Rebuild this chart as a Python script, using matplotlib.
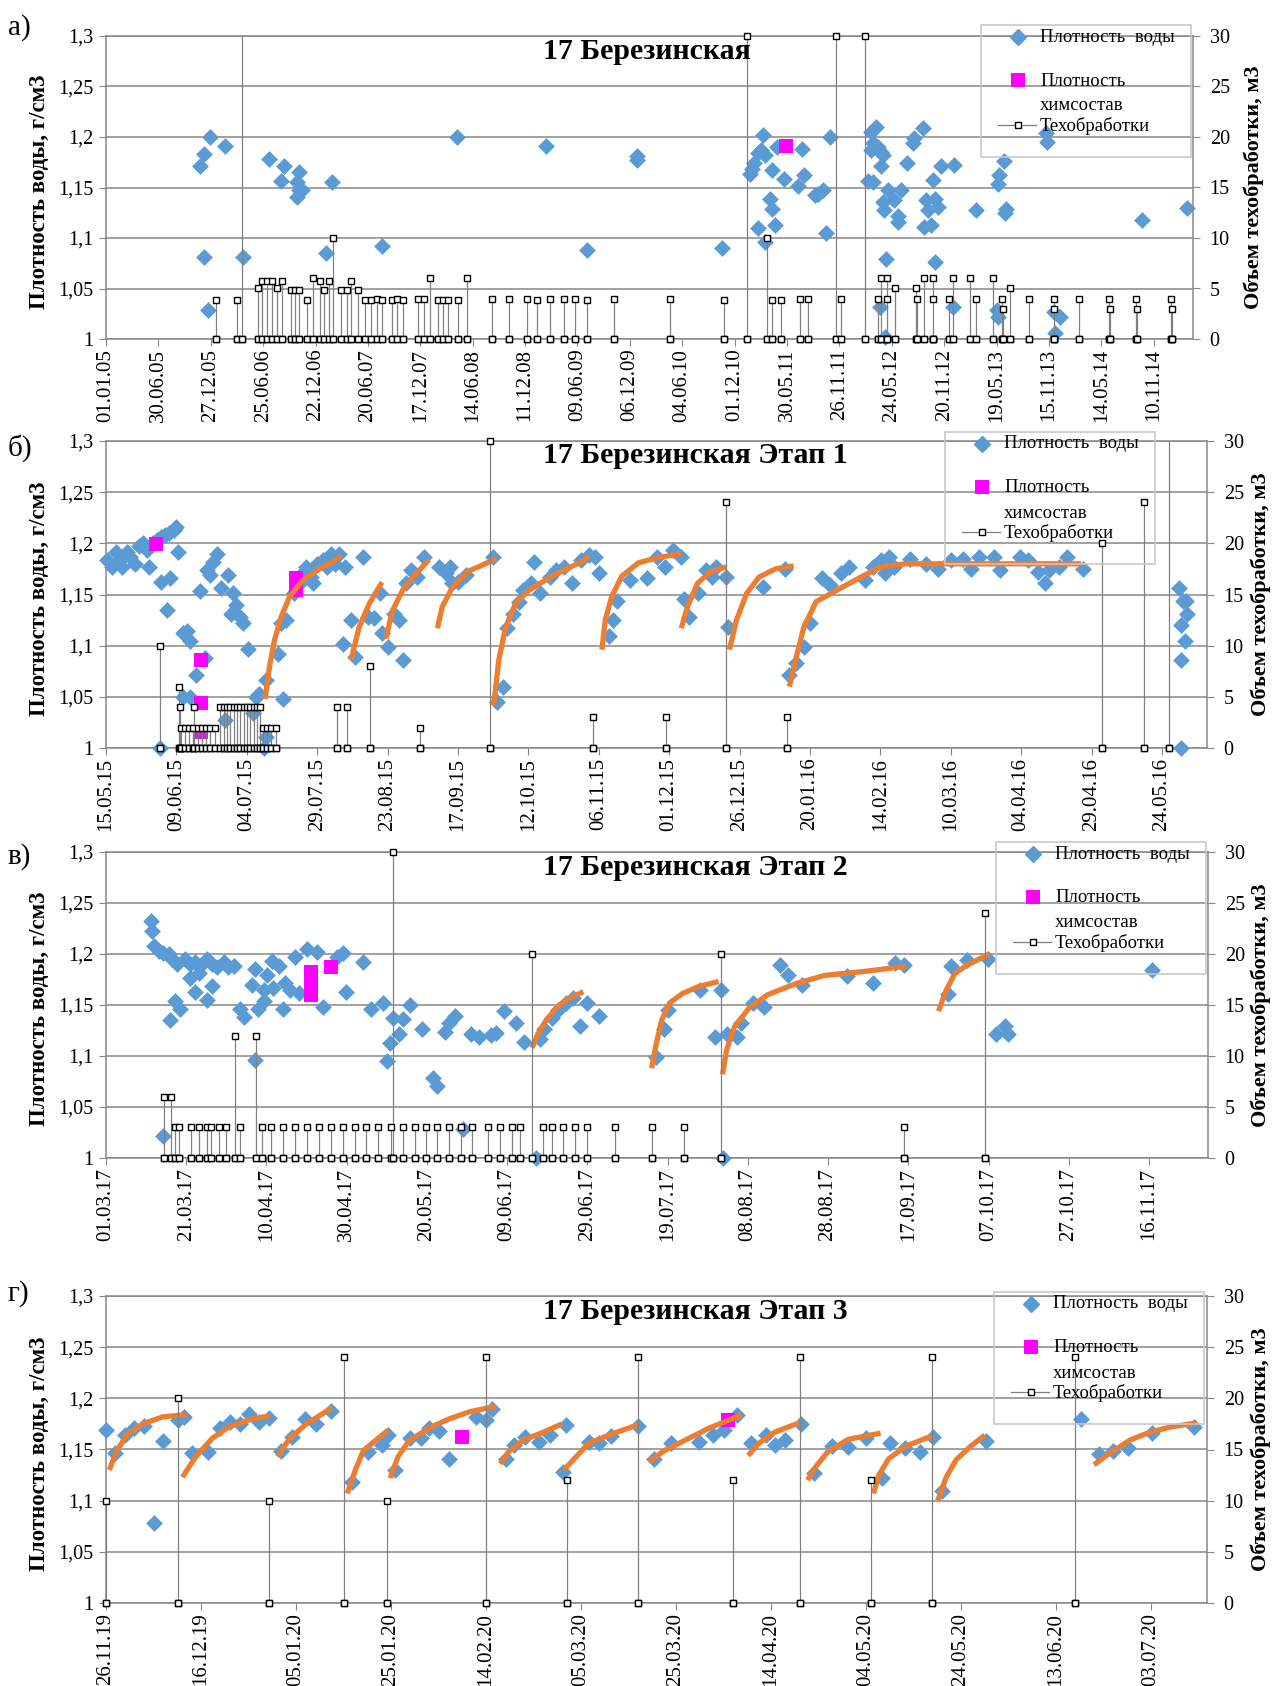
import numpy as np
import matplotlib
matplotlib.use("Agg")
import matplotlib.pyplot as plt
import matplotlib.dates as mdates
from matplotlib.lines import Line2D
from matplotlib.patches import Rectangle
from matplotlib.ticker import FuncFormatter
from datetime import datetime

plt.rcParams['font.family'] = 'serif'
plt.rcParams['font.serif'] = ['Liberation Serif', 'DejaVu Serif']

W, H = 1277, 1686
BLUE = '#5b9bd5'
PINK = '#ff00ff'
ORANGE = '#ed7d31'
GRAY = '#878787'

# ---------------- а) whole history, days since 01.01.05 ----------------
a_water_days = [324, 338, 338, 352, 359, 408, 472, 560, 603, 612, 655, 655, 662, 662, 673,
                757, 777, 950, 1207, 1511, 1654, 1823, 1823, 2115, 2213, 2218, 2226,
                2241, 2241, 2252, 2258, 2264, 2266, 2281, 2287, 2289, 2298, 2304, 2330,
                2378, 2390, 2399, 2435, 2447, 2464, 2475, 2487, 2618, 2630, 2630, 2635,
                2635, 2647, 2652, 2658, 2664, 2664, 2670, 2670, 2673, 2678, 2681, 2687,
                2709, 2721, 2721, 2732, 2753, 2772, 2778, 2807, 2812, 2818, 2824, 2835,
                2841, 2847, 2849, 2858, 2870, 2910, 2915, 2989, 3062, 3064, 3066, 3069,
                3086, 3089, 3092, 3230, 3232, 3258, 3260, 3279, 3561, 3716]
a_water_rho = [1.171, 1.183, 1.081, 1.029, 1.200, 1.191, 1.081, 1.178, 1.156, 1.171, 1.155, 1.141, 1.165, 1.148, 1.148,
               1.085, 1.155, 1.092, 1.200, 1.191, 1.088, 1.181, 1.177, 1.090, 1.163, 1.168, 1.174,
               1.184, 1.110, 1.187, 1.202, 1.182, 1.096, 1.139, 1.167, 1.129, 1.113, 1.190, 1.158,
               1.151, 1.188, 1.162, 1.143, 1.144, 1.148, 1.105, 1.200, 1.156, 1.205, 1.187, 1.194,
               1.155, 1.210, 1.190, 1.032, 1.185, 1.171, 1.182, 1.136, 1.128, 1.002, 1.079, 1.148,
               1.138, 1.122, 1.116, 1.148, 1.174, 1.194, 1.199, 1.209, 1.111, 1.138, 1.128, 1.113,
               1.157, 1.139, 1.076, 1.131, 1.171, 1.032, 1.172, 1.128, 1.029, 1.153, 1.022, 1.162,
               1.176, 1.125, 1.129, 1.204, 1.195, 1.027, 1.006, 1.022, 1.118, 1.130]
a_chem_days = [2338]
a_chem_rho = [1.191]
a_treat_days = [377, 451, 467, 521, 535, 552, 570, 587, 605, 634, 648, 662, 690, 711, 735, 750, 767,
                781, 807, 828, 842, 866, 890, 912, 932, 950, 981, 1000, 1021, 1073, 1091, 1115,
                1140, 1157, 1176, 1211, 1239, 1326, 1384, 1446, 1481, 1525, 1574, 1612, 1654, 1746,
                1938, 2122, 2203, 2272, 2290, 2318, 2384, 2412, 2508, 2527, 2609, 2652, 2663, 2683,
                2685, 2712, 2783, 2785, 2812, 2840, 2842, 2895, 2909, 2969, 2989, 3049, 3080, 3082,
                3105, 3172, 3256, 3258, 3345, 3447, 3449, 3540, 3542, 3660, 3662]
a_treat_vol = [3.9, 3.9, 40, 5, 5.7, 5.7, 5.7, 5, 5.7, 4.9, 4.9, 4.9, 3.9, 6, 5.7, 4.9, 5.7,
               10, 4.9, 4.9, 5.7, 4.9, 3.9, 3.9, 4, 3.9, 3.9, 4, 3.9, 4, 4, 6,
               3.9, 3.9, 3.9, 3.9, 6, 4, 4, 4, 3.9, 4, 4, 4, 3.9, 4,
               4, 3.9, 30, 10, 3.9, 3.9, 4, 4, 30, 4, 30, 4, 6, 6,
               4, 5, 5, 4, 6, 6, 4, 4, 6, 6, 4, 6, 4, 3,
               5, 4, 4, 3, 4, 4, 3, 4, 3, 4, 3]
a_trends = []

# ---------------- б) stage 1, days since 15.05.15 ----------------
b_water_days = [0.3, 2.2, 3.6, 5.1, 5.8, 7.3, 8.7, 10.2, 11.6, 13.1, 14.5, 15.3, 16.7, 18.2, 19.6,
                21.1, 22.5, 24.0, 25.0, 19.5, 22.7, 21.5, 25.7, 19.2, 27.4, 28.6, 29.7, 27.3, 29.7,
                32.1, 33.3, 35.1, 35.7, 36.8, 38.0, 39.5, 41.0, 42.1, 43.3, 44.5, 45.1, 46.3, 47.5,
                48.6, 50.4, 52.2, 53.4, 54.5, 56.0, 56.9, 56.9, 62.8, 61.0, 62.2, 64.0, 66.8, 68.7,
                69.0, 71.1, 71.2, 72.7, 73.4, 74.8, 77.0, 78.5, 79.9, 81.4, 82.8, 85.0, 84.3, 86.9,
                88.6, 91.1, 93.0, 95.2, 97.4, 98.1, 100.3, 102.4, 103.9, 105.3, 106.5, 108.2, 110.4,
                113.0, 118.4, 120.6, 122.0, 122.8, 125.0, 127.9, 137.3, 138.8, 141.0, 142.4, 144.6,
                146.8, 148.2, 151.1, 151.9, 154.0, 157.7, 159.8, 162.7, 165.6, 168.6, 171.5, 173.6,
                175.1, 178.7, 180.2, 181.6, 186.0, 192.0, 195.7, 198.6, 201.4, 204.3, 205.1, 207.2,
                210.1, 213.0, 215.2, 216.7, 220.3, 221.0, 233.3, 241.3, 242.7, 245.0, 247.8, 250.0,
                254.3, 257.2, 260.9, 263.8, 269.6, 272.5, 275.3, 276.8, 278.2, 279.7, 285.5, 291.3,
                295.6, 300.0, 304.3, 307.2, 310.1, 315.2, 317.4, 324.6, 327.5, 331.1, 333.3, 334.8,
                338.4, 341.3, 347.1, 381.1, 382.6, 384.0, 381.9, 383.3, 381.9, 381.9, 383.7]
b_water_rho = [1.184, 1.177, 1.192, 1.184, 1.177, 1.192, 1.187, 1.180, 1.197, 1.200, 1.193, 1.177, 1.200, 1.203, 1.206,
               1.208, 1.210, 1.213, 1.216, 1.162, 1.166, 1.135, 1.192, 1.000, 1.112, 1.114, 1.105, 1.050, 1.050,
               1.071, 1.153, 1.088, 1.174, 1.169, 1.182, 1.190, 1.156, 1.027, 1.169, 1.131, 1.151, 1.140, 1.128,
               1.122, 1.097, 1.034, 1.050, 1.053, 1.000, 1.066, 1.011, 1.048, 1.092, 1.122, 1.125, 1.151, 1.167,
               1.161, 1.177, 1.174, 1.167, 1.161, 1.180, 1.184, 1.177, 1.190, 1.180, 1.190, 1.177, 1.102, 1.125,
               1.089, 1.187, 1.128, 1.127, 1.151, 1.112, 1.099, 1.131, 1.125, 1.086, 1.161, 1.174, 1.167,
               1.187, 1.177, 1.171, 1.177, 1.161, 1.162, 1.169, 1.187, 1.045, 1.060, 1.117, 1.131,
               1.143, 1.154, 1.161, 1.182, 1.151, 1.167, 1.174, 1.177, 1.161, 1.184, 1.189, 1.187,
               1.171, 1.109, 1.125, 1.144, 1.164, 1.166, 1.187, 1.177, 1.193, 1.187, 1.146, 1.128,
               1.151, 1.174, 1.167, 1.177, 1.167, 1.118, 1.157, 1.175, 1.071, 1.083, 1.099, 1.122,
               1.166, 1.159, 1.171, 1.177, 1.164, 1.177, 1.184, 1.171, 1.187, 1.177, 1.185, 1.180,
               1.175, 1.184, 1.185, 1.175, 1.187, 1.187, 1.174, 1.187, 1.184, 1.172, 1.161, 1.174,
               1.177, 1.187, 1.175, 1.156, 1.144, 1.131, 1.120, 1.105, 1.086, 1.000, 1.144]
b_chem_days = [17.9, 33.9, 33.9, 33.9, 67.5, 67.5]
b_chem_rho = [1.199, 1.086, 1.044, 1.016, 1.166, 1.154]
b_treat_days = [19.2, 26.0, 26.2, 26.5, 28.0, 29.5, 31.0, 31.3, 32.6, 34.1, 35.6, 37.1, 38.7,
                40.6, 41.8, 42.9, 44.1, 45.3, 46.5, 47.7, 48.9, 50.1, 51.3, 52.5, 53.7, 54.8,
                55.9, 57.3, 58.7, 60.2, 81.9, 85.5, 93.7, 111.4, 136.3, 172.9, 198.9, 220.3,
                242.0, 353.6, 368.8, 377.5]
b_treat_vol = [10, 6, 4, 2, 2, 2, 2, 4, 2, 2, 2, 2, 2,
               4, 4, 4, 4, 4, 4, 4, 4, 4, 4, 4, 4, 4,
               2, 2, 2, 2, 4, 4, 8, 2, 30, 3, 3, 24,
               3, 20, 24, 40]
b_trends = [
    ([56.5, 58.1, 59.8, 62.2, 65.2, 69.9, 75.8, 81.7, 83.5],
     [1.048, 1.080, 1.105, 1.128, 1.148, 1.164, 1.175, 1.184, 1.188]),
    ([87.0, 89.9, 93.5, 98.0], [1.086, 1.118, 1.141, 1.162]),
    ([99.4, 101.7, 105.3, 110.0, 114.7], [1.107, 1.134, 1.154, 1.170, 1.184]),
    ([117.7, 119.4, 123.0, 128.9, 137.1, 138.8], [1.117, 1.138, 1.157, 1.173, 1.183, 1.185]),
    ([137.7, 139.5, 141.9, 145.4, 150.1, 159.6, 169.0, 171.5],
     [1.042, 1.086, 1.118, 1.141, 1.154, 1.170, 1.182, 1.188]),
    ([176.1, 177.3, 179.6, 183.2, 189.1, 196.0, 204.3],
     [1.096, 1.125, 1.148, 1.168, 1.181, 1.186, 1.190]),
    ([204.3, 206.5, 210.1, 214.5, 220.3], [1.117, 1.138, 1.161, 1.172, 1.177]),
    ([221.4, 223.9, 227.5, 231.9, 237.7, 244.2], [1.096, 1.125, 1.151, 1.167, 1.175, 1.178]),
    ([242.7, 244.9, 247.8, 252.2, 259.4, 268.1, 275.3, 284.0, 346.3],
     [1.060, 1.086, 1.118, 1.143, 1.154, 1.167, 1.177, 1.180, 1.180]),
]

# ---------------- в) stage 2, days since 01.03.17 ----------------
c_water_days = [11.1, 11.5, 11.9, 13.1, 14.3, 14.3, 15.6, 16.0, 16.4, 17.3, 17.7, 18.5, 19.8, 21.0, 21.0,
                22.2, 22.2, 23.1, 23.5, 25.2, 25.2, 26.4, 26.4, 27.6, 29.3, 30.5, 31.8, 33.3, 34.3,
                36.4, 37.2, 37.2, 38.0, 39.3, 39.3, 40.1, 41.3, 41.7, 43.0, 44.1, 44.7, 45.9, 47.1,
                48.0, 50.1, 52.6, 54.0, 57.5, 59.2, 59.9, 64.0, 66.0, 69.0, 70.0, 70.8, 71.6, 73.1,
                74.1, 75.8, 78.7, 81.4, 82.4, 84.4, 85.5, 86.9, 89.0, 91.0, 93.0, 96.0, 97.1, 99.1,
                102.1, 104.1, 107.2, 108.2, 109.2, 111.2, 112.7, 114.7, 116.3, 118.1, 119.8, 122.8,
                137.0, 139.0, 140.0, 148.1, 151.7, 153.2, 153.7, 154.7, 157.3, 158.3, 161.3, 163.9,
                167.9, 170.0, 173.5, 184.7, 191.1, 196.8, 198.9, 210.0, 210.7, 214.6, 219.9, 221.9,
                224.2, 224.8, 260.8]
c_water_rho = [1.232, 1.223, 1.208, 1.203, 1.201, 1.022, 1.200, 1.135, 1.195, 1.154, 1.190, 1.146, 1.195, 1.190, 1.176,
               1.192, 1.163, 1.181, 1.188, 1.195, 1.155, 1.190, 1.169, 1.187, 1.192, 1.187, 1.188, 1.146, 1.138,
               1.170, 1.185, 1.096, 1.146, 1.154, 1.165, 1.179, 1.193, 1.167, 1.188, 1.146, 1.172, 1.165, 1.197,
               1.162, 1.205, 1.202, 1.148, 1.197, 1.201, 1.163, 1.192, 1.146, 1.152, 1.095, 1.113, 1.137, 1.122,
               1.136, 1.150, 1.126, 1.078, 1.071, 1.124, 1.132, 1.139, 1.028, 1.122, 1.119, 1.121, 1.123, 1.144,
               1.132, 1.114, 1.000, 1.117, 1.126, 1.137, 1.145, 1.152, 1.157, 1.129, 1.152, 1.139,
               1.099, 1.126, 1.145, 1.165, 1.119, 1.165, 1.000, 1.122, 1.119, 1.132, 1.152, 1.148,
               1.189, 1.179, 1.170, 1.178, 1.172, 1.191, 1.189, 1.161, 1.188, 1.194, 1.195, 1.122,
               1.129, 1.122, 1.184]
c_chem_days = [51.1, 51.1, 51.1, 56.1]
c_chem_rho = [1.182, 1.171, 1.160, 1.187]
c_treat_days = [14.4, 16.2, 17.3, 18.3, 21.2, 23.1, 25.2, 26.2, 28.1, 30.0, 32.2, 33.3, 37.3, 39.0,
                41.2, 44.2, 47.2, 50.1, 53.0, 56.2, 59.1, 62.0, 64.9, 67.8, 71.1, 71.6, 74.0, 77.0,
                79.8, 82.5, 85.5, 88.5, 91.3, 95.3, 98.3, 101.1, 103.3, 106.2, 109.0, 111.2, 114.0,
                117.0, 119.8, 126.9, 136.0, 144.1, 153.2, 198.9, 219.0]
c_treat_vol = [6, 6, 3, 3, 3, 3, 3, 3, 3, 3, 12, 3, 12, 3,
               3, 3, 3, 3, 3, 3, 3, 3, 3, 3, 3, 30, 3, 3,
               3, 3, 3, 3, 3, 3, 3, 3, 3, 20, 3, 3, 3,
               3, 3, 3, 3, 3, 20, 3, 24]
c_trends = [
    ([106.2, 107.7, 109.7, 112.2, 114.7, 119.0], [1.108, 1.122, 1.135, 1.147, 1.155, 1.163]),
    ([136.0, 137.0, 138.5, 140.5, 143.6, 147.6, 152.7], [1.088, 1.109, 1.135, 1.152, 1.161, 1.168, 1.173]),
    ([153.7, 154.7, 156.7, 160.3, 164.9, 172.0, 179.1, 189.2, 199.4],
     [1.082, 1.106, 1.129, 1.147, 1.160, 1.171, 1.179, 1.183, 1.188]),
    ([207.5, 209.5, 211.6, 214.6, 220.2], [1.144, 1.165, 1.181, 1.189, 1.200]),
]

# ---------------- г) stage 3, days since 26.11.19 ----------------
d_water_days = [0.0, 2.0, 3.9, 6.0, 7.9, 10.2, 12.0, 15.1, 16.4, 18.1, 21.5, 23.9, 26.1, 28.2, 30.1,
                32.3, 34.4, 36.8, 39.2, 42.0, 44.3, 47.3, 51.8, 55.1, 58.1, 59.4, 60.9, 64.1, 66.3,
                68.0, 70.1, 72.3, 77.9, 80.0, 81.2, 84.2, 85.9, 88.2, 91.1, 93.4, 96.8, 96.2, 101.6,
                103.7, 106.3, 111.9, 115.4, 118.9, 124.9, 127.9, 130.1, 132.9, 135.8, 138.9, 140.8,
                143.0, 146.4, 149.0, 152.8, 156.2, 160.1, 163.3, 165.0, 168.3, 171.3, 174.1, 176.0,
                185.3, 205.2, 209.1, 212.1, 215.1, 220.2, 229.1]
d_water_rho = [1.169, 1.147, 1.164, 1.171, 1.173, 1.078, 1.158, 1.179, 1.182, 1.147, 1.148, 1.171, 1.177, 1.175, 1.185,
               1.177, 1.181, 1.149, 1.162, 1.180, 1.175, 1.188, 1.118, 1.148, 1.154, 1.164, 1.130, 1.161, 1.161,
               1.171, 1.168, 1.141, 1.182, 1.179, 1.190, 1.141, 1.154, 1.162, 1.157, 1.164, 1.174, 1.128, 1.157,
               1.156, 1.163, 1.173, 1.141, 1.156, 1.157, 1.164, 1.169, 1.184, 1.156, 1.164, 1.154,
               1.159, 1.175, 1.127, 1.153, 1.152, 1.161, 1.122, 1.156, 1.151, 1.148, 1.162, 1.109,
               1.158, 1.180, 1.146, 1.149, 1.151, 1.166, 1.172]
d_chem_days = [74.9, 130.9]
d_chem_rho = [1.162, 1.179]
d_treat_days = [0.0, 15.1, 34.3, 50.1, 59.2, 80.0, 97.1, 111.9, 132.0, 146.2, 161.0, 173.9, 204.1]
d_treat_vol = [10, 20, 10, 24, 10, 24, 12, 24, 12, 24, 12, 24, 24]
d_trends = [
    ([0.7, 2.2, 4.3, 7.7, 12.0, 17.0], [1.130, 1.148, 1.164, 1.175, 1.182, 1.184]),
    ([16.1, 18.9, 22.4, 25.8, 30.1, 34.4], [1.123, 1.143, 1.161, 1.172, 1.179, 1.183]),
    ([36.1, 38.7, 42.2, 45.6, 47.5], [1.143, 1.161, 1.175, 1.185, 1.191]),
    ([50.8, 52.5, 54.2, 56.8, 59.4], [1.107, 1.130, 1.149, 1.159, 1.169]),
    ([59.8, 61.5, 63.7, 68.0, 72.3, 76.6, 82.0], [1.122, 1.143, 1.158, 1.171, 1.180, 1.187, 1.192]),
    ([83.0, 84.8, 87.8, 92.1, 96.0], [1.136, 1.148, 1.159, 1.167, 1.175]),
    ([96.4, 99.0, 101.6, 105.8, 111.9], [1.130, 1.143, 1.156, 1.164, 1.174]),
    ([114.3, 117.6, 121.9, 127.0, 131.3, 133.9], [1.138, 1.149, 1.159, 1.171, 1.179, 1.184]),
    ([135.2, 137.4, 140.8, 145.9], [1.144, 1.156, 1.167, 1.176]),
    ([147.7, 149.4, 152.0, 156.3, 163.1], [1.120, 1.133, 1.148, 1.160, 1.166]),
    ([161.6, 162.7, 164.8, 168.3, 172.6, 174.3], [1.107, 1.125, 1.141, 1.153, 1.161, 1.163]),
    ([175.1, 176.9, 179.0, 182.0, 185.0], [1.100, 1.123, 1.140, 1.153, 1.164]),
    ([208.0, 211.2, 215.5, 219.8, 224.1, 229.7], [1.135, 1.146, 1.159, 1.167, 1.172, 1.176]),
]

panels = [
    dict(letter='а)', title='17 Березинская', start='01.01.05', step=180, nticks=21, xmax=3735,
         box=(106, 36, 1193, 339), title_y=59, letter_y=28, legend=(981, 25), vlabel_x=1254,
         water=(a_water_days, a_water_rho), chem=(a_chem_days, a_chem_rho),
         treat=(a_treat_days, a_treat_vol), trends=a_trends),
    dict(letter='б)', title='17 Березинская Этап 1', start='15.05.15', step=25, nticks=16, xmax=391,
         box=(106, 441, 1207, 748), title_y=463, letter_y=448, legend=(945, 432), vlabel_x=1261,
         water=(b_water_days, b_water_rho), chem=(b_chem_days, b_chem_rho),
         treat=(b_treat_days, b_treat_vol), trends=b_trends),
    dict(letter='в)', title='17 Березинская Этап 2', start='01.03.17', step=20, nticks=14, xmax=274.7,
         box=(106, 852, 1208, 1158), title_y=875, letter_y=857, legend=(996, 842), vlabel_x=1261,
         water=(c_water_days, c_water_rho), chem=(c_chem_days, c_chem_rho),
         treat=(c_treat_days, c_treat_vol), trends=c_trends),
    dict(letter='г)', title='17 Березинская Этап 3', start='26.11.19', step=20, nticks=12, xmax=231.8,
         box=(106, 1296, 1207, 1603), title_y=1319, letter_y=1294, legend=(994, 1292), vlabel_x=1261,
         water=(d_water_days, d_water_rho), chem=(d_chem_days, d_chem_rho),
         treat=(d_treat_days, d_treat_vol), trends=d_trends),
]


def fx(px):
    return px / W


def fy(py):
    return 1 - py / H


def rho_fmt(v, pos):
    return f'{v:.2f}'.rstrip('0').rstrip('.').replace('.', ',')


def draw_legend(fig, x0, y0):
    fig.add_artist(Rectangle((fx(x0), fy(y0 + 132)), 210 / W, 132 / H, transform=fig.transFigure,
                             fill=False, ec='#c8c8c8', lw=1.2))
    mx = fx(x0 + 37)
    tx = fx(x0 + 59)
    fig.add_artist(Line2D([mx], [fy(y0 + 12)], transform=fig.transFigure, ls='none',
                          marker='D', ms=8.5, color=BLUE))
    fig.add_artist(Line2D([mx], [fy(y0 + 55)], transform=fig.transFigure, ls='none',
                          marker='s', ms=10, color=PINK, mew=0))
    fig.add_artist(Line2D([fx(x0 + 17), fx(x0 + 55)], [fy(y0 + 100)] * 2, transform=fig.transFigure,
                          color='#7f7f7f', lw=0.9))
    fig.add_artist(Line2D([mx], [fy(y0 + 100)], transform=fig.transFigure, ls='none',
                          marker='s', ms=4.2, mfc='white', mec='black', mew=1.0))
    kw = dict(fontsize=13.5, va='center', ha='left')
    fig.text(tx, fy(y0 + 12), 'Плотность  воды', **kw)
    fig.text(tx, fy(y0 + 56), 'Плотность', **kw)
    fig.text(tx, fy(y0 + 81), 'химсостав', **kw)
    fig.text(tx, fy(y0 + 101), 'Техобработки', **kw)


def draw_panel(fig, p):
    left, top, right, bottom = p['box']
    ax = fig.add_axes([fx(left), fy(bottom), (right - left) / W, (bottom - top) / H])
    ax2 = ax.twinx()
    t0 = mdates.date2num(datetime.strptime(p['start'], '%d.%m.%y'))

    # density of produced water and lab samples
    wd, wr = p['water']
    ax.plot(t0 + np.asarray(wd), wr, ls='none', marker='D', ms=8.5, color=BLUE, mec=BLUE, mew=0.4,
            clip_on=False, zorder=3)
    cd, cr = p['chem']
    ax.plot(t0 + np.asarray(cd), cr, ls='none', marker='s', ms=10, color=PINK, mew=0,
            clip_on=False, zorder=4)
    for td, tv in p['trends']:
        ax.plot(t0 + np.asarray(td), tv, color=ORANGE, lw=3.8, solid_capstyle='butt',
                solid_joinstyle='round', zorder=5)

    # treatment volumes as spikes from zero
    order = np.argsort(p['treat'][0], kind='stable')
    tdays = np.asarray(p['treat'][0])[order]
    tvol = np.asarray(p['treat'][1])[order]
    xs = np.repeat(t0 + tdays, 3)
    ys = np.column_stack([np.zeros_like(tvol), tvol, np.zeros_like(tvol)]).ravel()
    ax2.plot(xs, ys, color='#7f7f7f', lw=0.8, zorder=2)
    shown = ys <= 30
    ax2.plot(xs[shown], ys[shown], ls='none', marker='s', ms=4.2, mfc='white', mec='black',
             mew=1.0, clip_on=False, zorder=3)

    ax.set_xlim(t0, t0 + p['xmax'])
    ax.set_ylim(1.0, 1.3)
    ax.set_yticks(np.linspace(1.0, 1.3, 7))
    ax.yaxis.set_major_formatter(FuncFormatter(rho_fmt))
    ax.set_xticks(t0 + p['step'] * np.arange(p['nticks']))
    ax.xaxis.set_major_formatter(mdates.DateFormatter('%d.%m.%y'))
    ax2.set_ylim(0, 30)
    ax2.set_yticks(np.arange(0, 31, 5))

    ax.yaxis.grid(True, color=GRAY, lw=1.1)
    ax.set_axisbelow(True)
    for s in ax.spines.values():
        s.set_color(GRAY)
        s.set_linewidth(1.1)
    ax.spines['right'].set_visible(False)
    for name, s in ax2.spines.items():
        s.set_visible(name == 'right')
        s.set_color(GRAY)
        s.set_linewidth(1.1)
    ax.tick_params(axis='x', length=5, color=GRAY, labelsize=15, pad=2, labelrotation=90)
    ax.tick_params(axis='y', length=5, color=GRAY, labelsize=14.5, pad=4)
    ax2.tick_params(axis='y', length=5, color=GRAY, labelsize=14.5, pad=7)

    mid = (top + bottom) / 2 + 4
    fig.text(fx(39), fy(mid), 'Плотность воды, г/см3', rotation=90, fontsize=16.5,
             fontweight='bold', ha='center', va='center')
    fig.text(fx(p['vlabel_x']), fy(mid - 4), 'Объем техобработки, м3', rotation=90, fontsize=16,
             fontweight='bold', ha='center', va='center')
    fig.text(fx(543), fy(p['title_y']), p['title'], fontsize=21.5, fontweight='bold',
             ha='left', va='baseline')
    fig.text(fx(8), fy(p['letter_y']), p['letter'], fontsize=21, ha='left', va='center')
    draw_legend(fig, *p['legend'])


fig = plt.figure(figsize=(W / 100, H / 100), dpi=100)
for p in panels:
    draw_panel(fig, p)
fig.savefig('out.png', dpi=100)
